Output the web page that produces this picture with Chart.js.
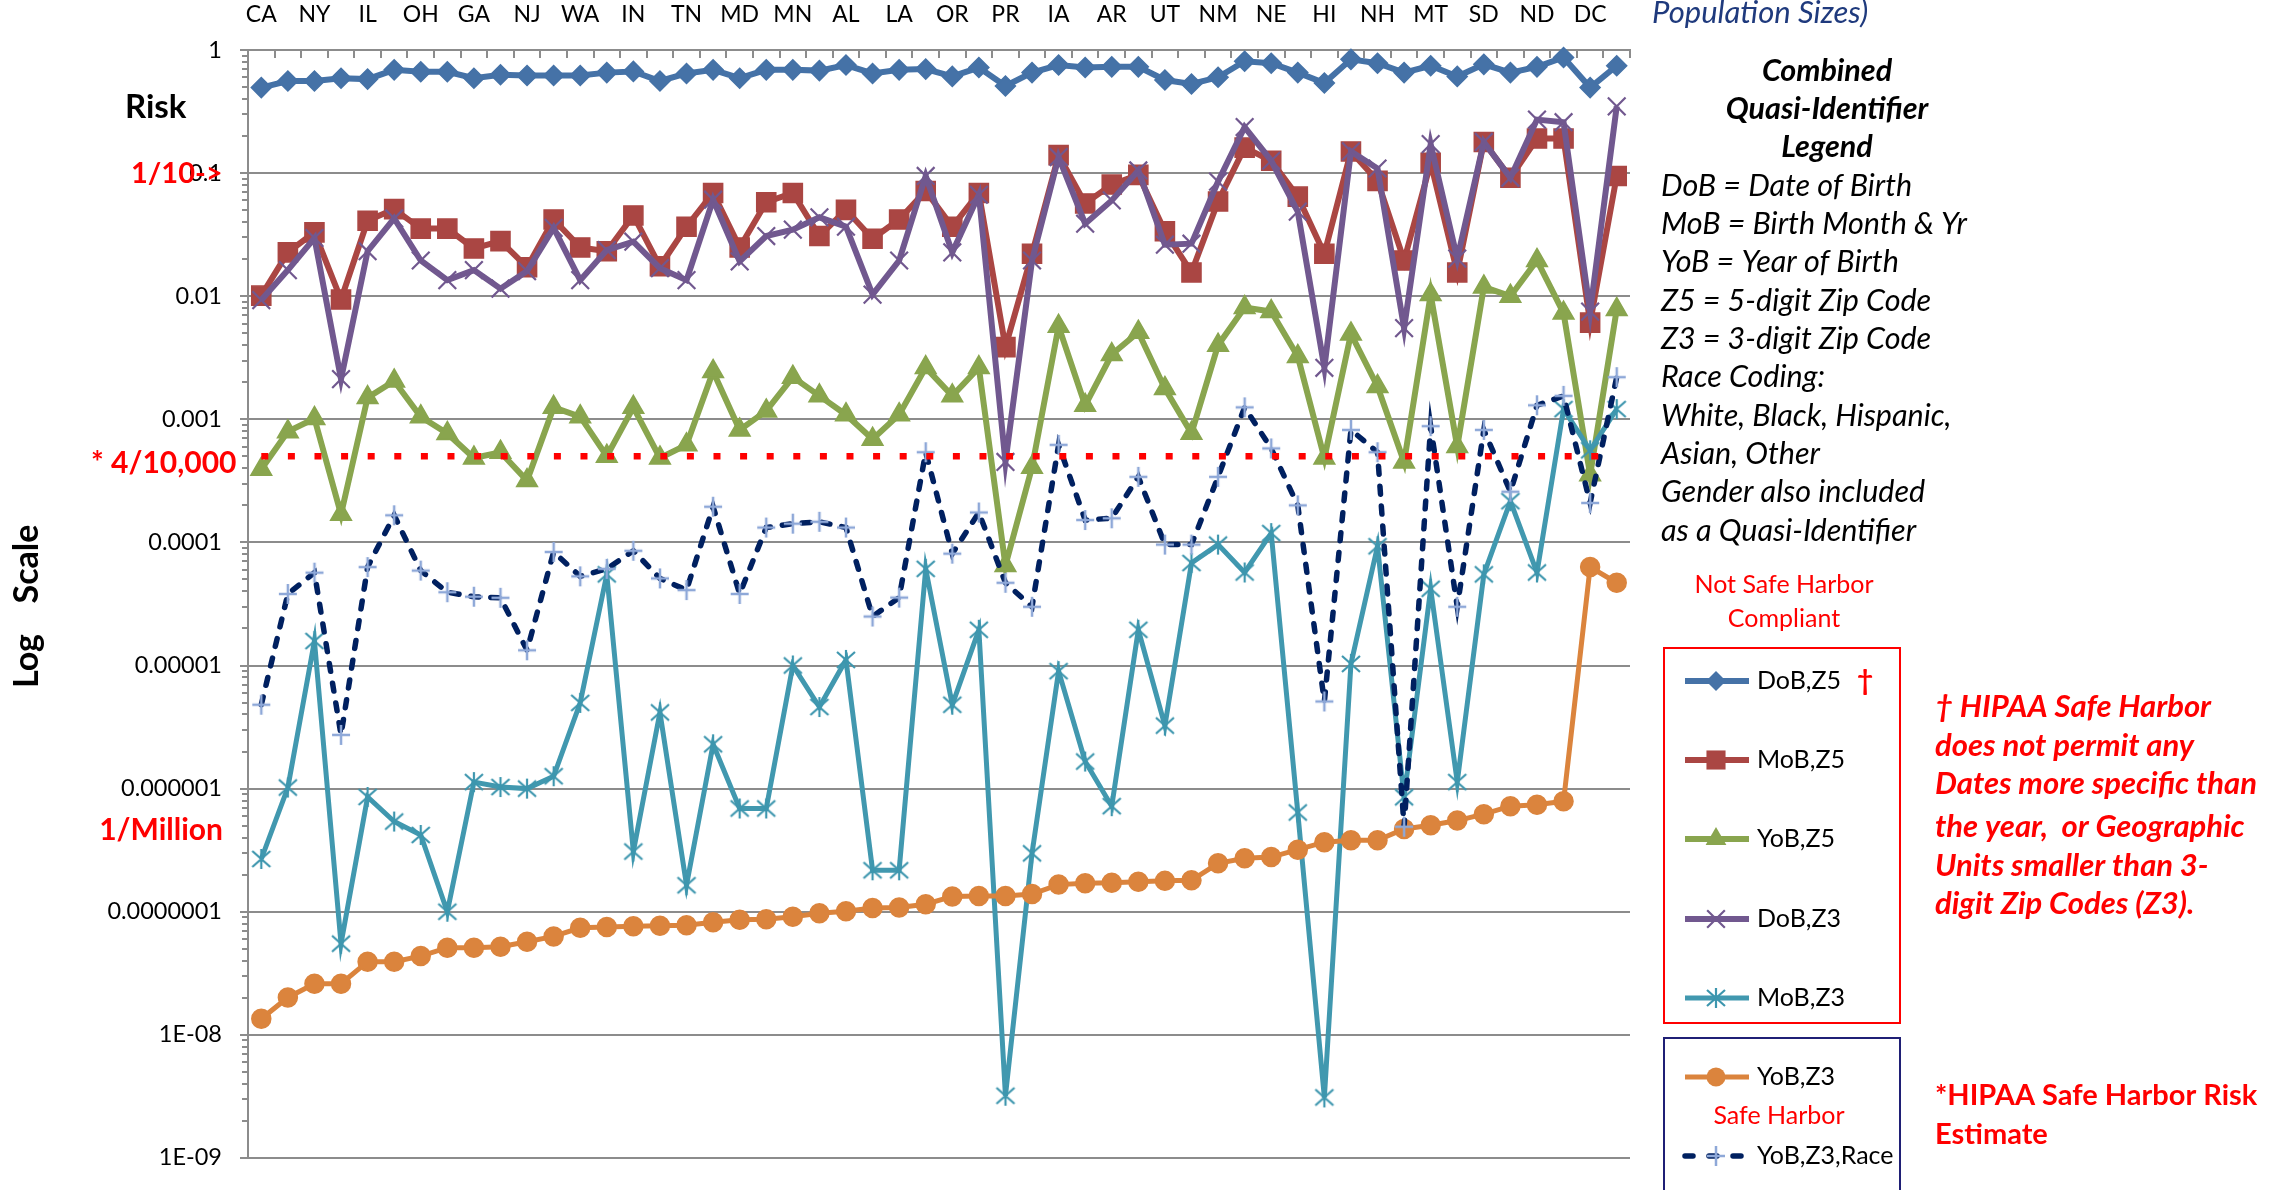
<!DOCTYPE html>
<html>
<head>
<meta charset="utf-8">
<script src="https://cdn.jsdelivr.net/npm/chart.js@4.4.0/dist/chart.umd.min.js"></script>
<style>
html, body { margin: 0; padding: 0; background: #fff; }
canvas { display: block; }
</style>
</head>
<body>
<canvas id="canvas" width="2286" height="1190"></canvas>
<script>
// states, ordered by population size
const states = ['CA','TX','NY','FL','IL','PA','OH','MI','GA','NC','NJ','VA','WA','MA','IN','AZ','TN','MO','MD','WI',
  'MN','CO','AL','SC','LA','KY','OR','OK','PR','CT','IA','MS','AR','KS','UT','NV','NM','WV','NE','ID',
  'HI','ME','NH','RI','MT','DE','SD','AK','ND','VT','DC','WY'];

const dobZ5 = [0.495,0.56,0.56,0.59,0.58,0.69,0.665,0.665,0.59,0.63, 0.62,0.62,0.62,0.655,0.67,0.56,0.645,0.69,0.59,0.69,
  0.69,0.68,0.755,0.645,0.69,0.70,0.61,0.72,0.51,0.655, 0.755,0.72,0.73,0.73,0.57,0.53,0.60,0.81,0.78,0.655,
  0.54,0.84,0.78,0.655,0.745,0.61,0.765,0.655,0.73,0.87, 0.495,0.745];
const mobZ5 = [0.0101,0.0227,0.033,0.0094,0.041,0.051,0.0354,0.0354,0.0244,0.028, 0.0172,0.042,0.0249,0.0232,0.0453,0.0175,0.0367,0.069,0.0249,0.058,
  0.069,0.0308,0.0503,0.0293,0.042,0.0716,0.0367,0.069,0.00386,0.0221, 0.14,0.0567,0.0807,0.0968,0.0337,0.0156,0.0588,0.161,0.126,0.0644,
  0.0221,0.15,0.0865,0.0195,0.121,0.0156,0.179,0.0916,0.191,0.191, 0.0061,0.0948];
const yobZ5 = [0.000393,0.000794,0.001016,0.000169,0.0015,0.00205,0.00105,0.000767,0.000485,0.00054, 0.000318,0.00125,0.00105,0.000502,0.00125,0.000485,0.00062,0.00245,0.00082,0.00117,
  0.0022,0.00155,0.00109,0.00069,0.00109,0.00263,0.00155,0.00263,0.000065,0.000407, 0.0057,0.0013,0.00336,0.0051,0.00178,0.00077,0.004,0.0081,0.0075,0.00324,
  0.000485,0.00494,0.00185,0.00045,0.0103,0.0006,0.0119,0.01,0.0195,0.0073, 0.000354,0.0078];
const dobZ3 = [0.0093,0.0163,0.0297,0.00212,0.0232,0.0428,0.0195,0.0135,0.0163,0.0115, 0.016,0.0359,0.0135,0.0237,0.0277,0.0169,0.0135,0.0608,0.0192,0.0308,
  0.0347,0.0437,0.0367,0.0103,0.0195,0.0948,0.0227,0.0667,0.00045,0.0195, 0.135,0.0388,0.06,0.105,0.0262,0.0267,0.0853,0.2366,0.126,0.0486,
  0.00262,0.15,0.109,0.0055,0.172,0.0202,0.179,0.0916,0.272,0.259, 0.0075,0.348];
const mobZ3 = [2.68e-7,1.02e-6,1.58e-5,5.5e-8,8.55e-7,5.4e-7,4.2e-7,1.0e-7,1.13e-6,1.03e-6, 1.0e-6,1.26e-6,4.97e-6,5.5e-5,3.08e-7,4.16e-6,1.64e-7,2.29e-6,6.9e-7,6.9e-7,
  1.0e-5,4.6e-6,1.11e-5,2.17e-7,2.17e-7,6.1e-5,4.8e-6,1.95e-5,3.2e-9,2.98e-7, 9.0e-6,1.66e-6,7.2e-7,1.95e-5,3.25e-6,6.8e-5,9.6e-5,5.7e-5,1.19e-4,6.4e-7,
  3.1e-9,1.03e-5,9.3e-5,8.5e-7,4.2e-5,1.13e-6,5.5e-5,2.16e-4,5.7e-5,1.21e-3, 5.6e-4,1.21e-3];
const yobZ3 = [1.35e-8,2.01e-8,2.6e-8,2.6e-8,3.93e-8,3.93e-8,4.36e-8,5.1e-8,5.1e-8,5.2e-8, 5.7e-8,6.3e-8,7.4e-8,7.5e-8,7.6e-8,7.7e-8,7.75e-8,8.2e-8,8.6e-8,8.7e-8,
  9.1e-8,9.7e-8,1.01e-7,1.07e-7,1.08e-7,1.15e-7,1.33e-7,1.34e-7,1.34e-7,1.39e-7, 1.66e-7,1.7e-7,1.72e-7,1.75e-7,1.78e-7,1.8e-7,2.47e-7,2.72e-7,2.78e-7,3.19e-7,
  3.67e-7,3.8e-7,3.8e-7,4.7e-7,5.04e-7,5.5e-7,6.2e-7,7.2e-7,7.4e-7,7.9e-7, 6.3e-5,4.7e-5];
const yobZ3Race = [4.8e-6,3.81e-5,5.68e-5,2.73e-6,6.3e-5,1.66e-4,5.9e-5,3.94e-5,3.62e-5,3.55e-5, 1.33e-5,8.36e-5,5.3e-5,6.1e-5,8.55e-5,5.1e-5,4.1e-5,1.95e-4,3.81e-5,1.32e-4,
  1.42e-4,1.47e-4,1.32e-4,2.5e-5,3.56e-5,5.4e-4,8.1e-5,1.75e-4,4.7e-5,3.0e-5, 6.2e-4,1.52e-4,1.57e-4,3.41e-4,9.6e-5,9.6e-5,3.41e-4,1.25e-3,5.8e-4,2.0e-4,
  5.1e-6,8.2e-4,5.4e-4,4.9e-7,8.8e-4,3.0e-5,8.2e-4,2.58e-4,1.3e-3,1.55e-3, 2.09e-4,2.2e-3];

// safe harbor risk line (as drawn)
const riskThreshold = 0.0005;

const yTicks = [1, 0.1, 0.01, 0.001, 0.0001, 0.00001, 0.000001, 0.0000001, 1e-8, 1e-9];
const yTickText = ['1','0.1','0.01','0.001','0.0001','0.00001','0.000001','0.0000001','1E-08','1E-09'];

const FONT = "Lato, 'Open Sans', sans-serif";
const gridColor = '#8c8c8c';
const RED = '#ff0000';

function makeMarker(size, draw) {
	const c = document.createElement('canvas');
	c.width = size; c.height = size;
	const g = c.getContext('2d');
	draw(g, size / 2);
	return c;
}
const starMark = makeMarker(24, (g, c) => {
	g.strokeStyle = '#3D96AE'; g.lineWidth = 2.2;
	g.beginPath();
	g.moveTo(c - 9, c - 8); g.lineTo(c + 9, c + 8);
	g.moveTo(c + 9, c - 8); g.lineTo(c - 9, c + 8);
	g.moveTo(c, c - 10); g.lineTo(c, c + 10);
	g.stroke();
});
const plusMark = makeMarker(24, (g, c) => {
	g.strokeStyle = '#8EA8D8'; g.lineWidth = 2.5;
	g.beginPath();
	g.moveTo(c - 9, c); g.lineTo(c + 9, c);
	g.moveTo(c, c - 10); g.lineTo(c, c + 10);
	g.stroke();
});

function series(label, data, color, style, radius, extra) {
	return Object.assign({
		label: label, data: data,
		borderColor: color, backgroundColor: color,
		borderWidth: 6,
		pointStyle: style, pointRadius: radius,
		pointBackgroundColor: color, pointBorderColor: color, pointBorderWidth: 1.5,
		tension: 0, clip: false
	}, extra || {});
}

const datasets = [
	series('DoB,Z5', dobZ5, '#4572A7', 'rectRot', 10),
	series('MoB,Z5', mobZ5, '#AA4643', 'rect', 13.5),
	series('YoB,Z5', yobZ5, '#89A54E', 'triangle', 12),
	series('DoB,Z3', dobZ3, '#71588F', 'crossRot', 12.5, { pointBorderWidth: 2.2 }),
	series('MoB,Z3', mobZ3, '#4198AF', starMark, 10, { borderWidth: 5 }),
	series('YoB,Z3', yobZ3, '#DB843D', 'circle', 9.5, { borderWidth: 5 }),
	series('YoB,Z3,Race', yobZ3Race, '#002060', plusMark, 10, { borderDash: [8, 12], borderWidth: 5.5, borderCapStyle: 'round' }),
	{ label: 'threshold', data: states.map(() => riskThreshold), borderColor: RED, borderWidth: 6.5,
	  borderDash: [7, 19.6], pointRadius: 0, clip: false }
];
// later series drawn on top, like the spreadsheet original
datasets.forEach((d, i) => { d.order = datasets.length - i; });

function drawMark(ctx, ds, x, y) {
	const s = ds.pointStyle, r = ds.pointRadius;
	if (s instanceof HTMLCanvasElement) { ctx.drawImage(s, x - s.width / 2, y - s.height / 2); return; }
	ctx.fillStyle = ds.pointBackgroundColor; ctx.strokeStyle = ds.pointBorderColor; ctx.lineWidth = ds.pointBorderWidth;
	ctx.setLineDash([]);
	ctx.beginPath();
	if (s === 'rectRot') { ctx.moveTo(x, y - r); ctx.lineTo(x + r, y); ctx.lineTo(x, y + r); ctx.lineTo(x - r, y); ctx.closePath(); ctx.fill(); }
	else if (s === 'rect') { const h = r * Math.SQRT1_2; ctx.rect(x - h, y - h, 2 * h, 2 * h); ctx.fill(); }
	else if (s === 'triangle') { ctx.moveTo(x, y - r); ctx.lineTo(x + r * 0.866, y + r / 2); ctx.lineTo(x - r * 0.866, y + r / 2); ctx.closePath(); ctx.fill(); }
	else if (s === 'circle') { ctx.arc(x, y, r, 0, Math.PI * 2); ctx.fill(); }
	else if (s === 'crossRot') { const h = r * Math.SQRT1_2; ctx.moveTo(x - h, y - h); ctx.lineTo(x + h, y + h); ctx.moveTo(x + h, y - h); ctx.lineTo(x - h, y + h); ctx.stroke(); }
}

function txt(ctx, s, x, y, font, color, align) {
	ctx.font = font; ctx.fillStyle = color; ctx.textAlign = align || 'left'; ctx.textBaseline = 'middle';
	ctx.fillText(s, x, y);
}

const overlay = {
	id: 'overlay',
	afterDraw(chart) {
		const ctx = chart.ctx, xs = chart.scales.x, ys = chart.scales.y, a = chart.chartArea;
		ctx.save();
		// inward ticks on the top axis
		ctx.strokeStyle = gridColor; ctx.lineWidth = 2;
		ctx.beginPath();
		for (let i = 0; i <= states.length; i++) {
			const px = Math.round(xs.getPixelForValue(i - 0.5));
			ctx.moveTo(px, a.top); ctx.lineTo(px, a.top + 8);
		}
		// minor ticks on the log axis
		for (let d = -9; d < 0; d++) {
			for (let m = 2; m < 10; m++) {
				const py = Math.round(ys.getPixelForValue(m * Math.pow(10, d)));
				ctx.moveTo(a.left - 6, py); ctx.lineTo(a.left, py);
			}
		}
		ctx.stroke();

		// left annotations
		txt(ctx, 'Risk', 125, 107, 'bold 33px ' + FONT, '#000');
		txt(ctx, '1/10->', 131, 174, 'bold 29px ' + FONT, RED);
		txt(ctx, '* 4/10,000', 91, 463, 'bold 30px ' + FONT, RED);
		txt(ctx, '1/Million', 223, 830, 'bold 30px ' + FONT, RED, 'right');
		ctx.save();
		ctx.translate(27, 0); ctx.rotate(-Math.PI / 2);
		txt(ctx, 'Scale', -564, 0, 'bold 34px ' + FONT, '#000', 'center');
		txt(ctx, 'Log', -661, 0, 'bold 34px ' + FONT, '#000', 'center');
		ctx.restore();

		// right side text
		txt(ctx, 'Population Sizes)', 1652, 13, 'italic 31px ' + FONT, '#1F3A7D');
		const bi = 'italic bold 30.5px ' + FONT;
		txt(ctx, 'Combined', 1827, 71, bi, '#000', 'center');
		txt(ctx, 'Quasi-Identifier', 1827, 109, bi, '#000', 'center');
		txt(ctx, 'Legend', 1827, 147, bi, '#000', 'center');
		const notes = ['DoB = Date of Birth', 'MoB = Birth Month & Yr', 'YoB = Year of Birth', 'Z5 = 5-digit Zip Code',
			'Z3 = 3-digit Zip Code', 'Race Coding:', 'White, Black, Hispanic,', 'Asian, Other',
			'Gender also included', 'as a Quasi-Identifier'];
		notes.forEach((s, i) => txt(ctx, s, 1661, 186 + i * 38.3, 'italic 30.5px ' + FONT, '#000'));

		txt(ctx, 'Not Safe Harbor', 1784, 585, '25px ' + FONT, RED, 'center');
		txt(ctx, 'Compliant', 1784, 619, '25px ' + FONT, RED, 'center');

		// legend boxes
		ctx.lineWidth = 2; ctx.setLineDash([]);
		ctx.strokeStyle = RED; ctx.strokeRect(1664, 648, 236, 375);
		ctx.strokeStyle = '#1F1F75'; ctx.strokeRect(1664, 1038, 236, 160);
		const rows = [[0, 681], [1, 760], [2, 839], [3, 919], [4, 998], [5, 1077], [6, 1156]];
		rows.forEach(([k, py]) => {
			const ds = datasets[k];
			ctx.strokeStyle = ds.borderColor; ctx.lineWidth = ds.borderWidth;
			ctx.setLineDash(ds.borderDash ? [8, 16] : []);
			ctx.lineCap = ds.borderDash ? 'round' : 'butt';
			ctx.beginPath(); ctx.moveTo(1685, py); ctx.lineTo(1749, py); ctx.stroke();
			ctx.lineCap = 'butt';
			drawMark(ctx, ds, 1716, py);
			txt(ctx, ds.label, 1757, py, '25px ' + FONT, '#000');
		});
		txt(ctx, '\u2020', 1865, 681, 'bold 28px ' + FONT, RED, 'center');
		txt(ctx, 'Safe Harbor', 1779, 1116, '25px ' + FONT, RED, 'center');

		const rb = 'italic bold 31px ' + FONT;
		['\u2020 HIPAA Safe Harbor', 'does not permit any', 'Dates more specific than', 'the year,  or Geographic',
			'Units smaller than 3-', 'digit Zip Codes (Z3).'].forEach((s, i) =>
			txt(ctx, s, 1935, [707, 746, 784, 827, 866, 904][i], rb, RED));
		txt(ctx, '*HIPAA Safe Harbor Risk', 1935, 1096, 'bold 29px ' + FONT, RED);
		txt(ctx, 'Estimate', 1935, 1135, 'bold 29px ' + FONT, RED);
		ctx.restore();
	}
};

new Chart(document.getElementById('canvas'), {
	type: 'line',
	data: { labels: states, datasets: datasets },
	options: {
		responsive: false,
		animation: false,
		devicePixelRatio: 1,
		layout: { padding: { left: 0, right: 656, top: 0, bottom: 13 } },
		plugins: { legend: { display: false }, tooltip: { enabled: false } },
		scales: {
			x: {
				type: 'category', position: 'top', offset: true,
				grid: { display: false, drawTicks: false },
				border: { display: true, color: gridColor, width: 2 },
				ticks: {
					autoSkip: false, maxRotation: 0, minRotation: 0, padding: 22,
					color: '#000', font: { family: FONT, size: 23 },
					callback: (v, i) => (i % 2 === 0 ? states[i] : '')
				},
				afterFit: (s) => { s.height = 50; }
			},
			y: {
				type: 'logarithmic', min: 1e-9, max: 1,
				afterBuildTicks: (s) => { s.ticks = yTicks.map((v) => ({ value: v })); },
				afterFit: (s) => { s.width = 248; },
				grid: { color: gridColor, lineWidth: 2, tickLength: 8 },
				border: { display: true, color: gridColor, width: 2 },
				ticks: {
					padding: 18, color: '#000', font: { family: FONT, size: 23.5 },
					callback: (v) => yTickText[yTicks.indexOf(v)]
				}
			}
		}
	},
	plugins: [overlay]
});
</script>
</body>
</html>
